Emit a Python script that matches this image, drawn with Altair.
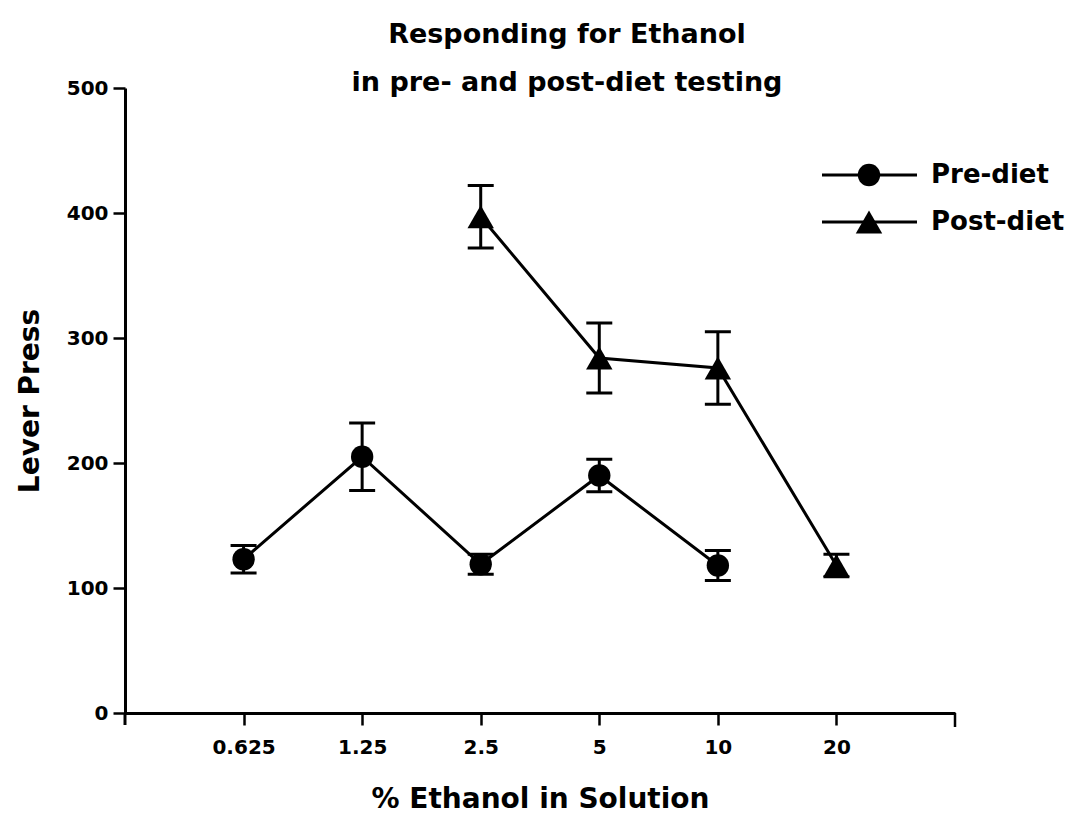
import altair as alt
import pandas as pd

concentrations = ["0.625", "1.25", "2.5", "5", "10", "20"]

pre_conc = ["0.625", "1.25", "2.5", "5", "10"]
pre_mean = [123, 205, 119, 190, 118]
pre_sem = [11, 27, 8, 13, 12]

post_conc = ["2.5", "5", "10", "20"]
post_mean = [397, 284, 276, 118]
post_sem = [25, 28, 29, 9]

series_names = ["Pre-diet", "Post-diet"]
y_ticks = [0, 100, 200, 300, 400, 500]

rows = []
for c, m, s in zip(pre_conc, pre_mean, pre_sem):
    rows.append({"series": "Pre-diet", "conc": c, "mean": m, "lo": m - s, "hi": m + s})
for c, m, s in zip(post_conc, post_mean, post_sem):
    rows.append({"series": "Post-diet", "conc": c, "mean": m, "lo": m - s, "hi": m + s})
df = pd.DataFrame(rows)

FONT = "DejaVu Sans"
W, H = 830, 625

xenc = alt.X("conc:O", sort=concentrations,
             scale=alt.Scale(type="point", domain=concentrations, padding=1),
             axis=alt.Axis(title="% Ethanol in Solution", labelAngle=0, labelFontSize=20,
                           labelPadding=12, titleFontSize=28, titlePadding=28,
                           tickSize=12, tickWidth=2.5, domainWidth=3))
yscale = alt.Scale(domain=[0, 500], nice=False)
yaxis = alt.Axis(title="Lever Press", values=y_ticks, labelFontSize=20, labelPadding=5,
                 titleFontSize=28, titlePadding=22, tickSize=12, tickWidth=2.5,
                 domainWidth=3, grid=False)

base = alt.Chart(df)

lines = base.mark_line(color="black", strokeWidth=3).encode(
    x=xenc,
    y=alt.Y("mean:Q", scale=yscale, axis=yaxis),
    detail="series:N",
)
err = base.mark_rule(color="black", strokeWidth=3, opacity=1).encode(
    x=alt.X("conc:O", sort=concentrations),
    y="lo:Q", y2="hi:Q",
)
cap_lo = base.mark_tick(color="black", thickness=3, size=26, opacity=1).encode(
    x=alt.X("conc:O", sort=concentrations), y="lo:Q")
cap_hi = base.mark_tick(color="black", thickness=3, size=26, opacity=1).encode(
    x=alt.X("conc:O", sort=concentrations), y="hi:Q")

pts_pre = base.transform_filter(alt.datum.series == "Pre-diet").mark_point(
    shape="circle", filled=True, color="black", size=500, opacity=1).encode(
    x=alt.X("conc:O", sort=concentrations), y="mean:Q")
pts_post = base.transform_filter(alt.datum.series == "Post-diet").mark_point(
    shape="triangle-up", filled=True, color="black", size=700, opacity=1).encode(
    x=alt.X("conc:O", sort=concentrations), y="mean:Q")

# axis decorations: y axis extension below zero, right-end tick on x axis
y_ext = alt.Chart(pd.DataFrame({"k": [0]})).mark_rule(color="black", strokeWidth=3).encode(
    x=alt.value(0), y=alt.value(H), y2=alt.value(H + 12))
x_end = alt.Chart(pd.DataFrame({"k": [0]})).mark_rule(color="black", strokeWidth=2.5).encode(
    x=alt.value(W), y=alt.value(H), y2=alt.value(H + 14))

# manual legend
leg_layers = []
leg_y = [87, 134]
for name, ly, shape, sz in zip(series_names, leg_y, ["circle", "triangle-up"], [500, 700]):
    ldf = pd.DataFrame({"series": [name]})
    lc = alt.Chart(ldf)
    leg_layers.append(lc.mark_rule(color="black", strokeWidth=3).encode(
        x=alt.value(697), x2=alt.value(792), y=alt.value(ly)))
    leg_layers.append(lc.mark_point(shape=shape, filled=True, color="black", size=sz, opacity=1).encode(
        x=alt.value(744), y=alt.value(ly)))
    leg_layers.append(lc.mark_text(align="left", baseline="middle", font=FONT, fontWeight="bold",
                                   fontSize=26, color="black").encode(
        x=alt.value(806), y=alt.value(ly), text="series:N"))

chart = alt.layer(lines, err, cap_lo, cap_hi, pts_pre, pts_post, y_ext, x_end, *leg_layers).properties(
    width=W, height=H,
    title=alt.TitleParams(["Responding for Ethanol", "in pre- and post-diet testing"],
                          font=FONT, fontSize=27, fontWeight="bold", color="black",
                          anchor="middle", dx=27, offset=-19, lineHeight=48),
    autosize=alt.AutoSizeParams(type="none"),
    padding={"left": 125, "top": 88, "right": 115, "bottom": 107},
).configure_view(stroke=None).configure_axis(
    labelFont=FONT, labelFontWeight="bold", titleFont=FONT, titleFontWeight="bold",
    labelColor="black", titleColor="black", domainColor="black", tickColor="black",
)

chart.save("out.html", embed_options={"renderer": "svg", "actions": False})
